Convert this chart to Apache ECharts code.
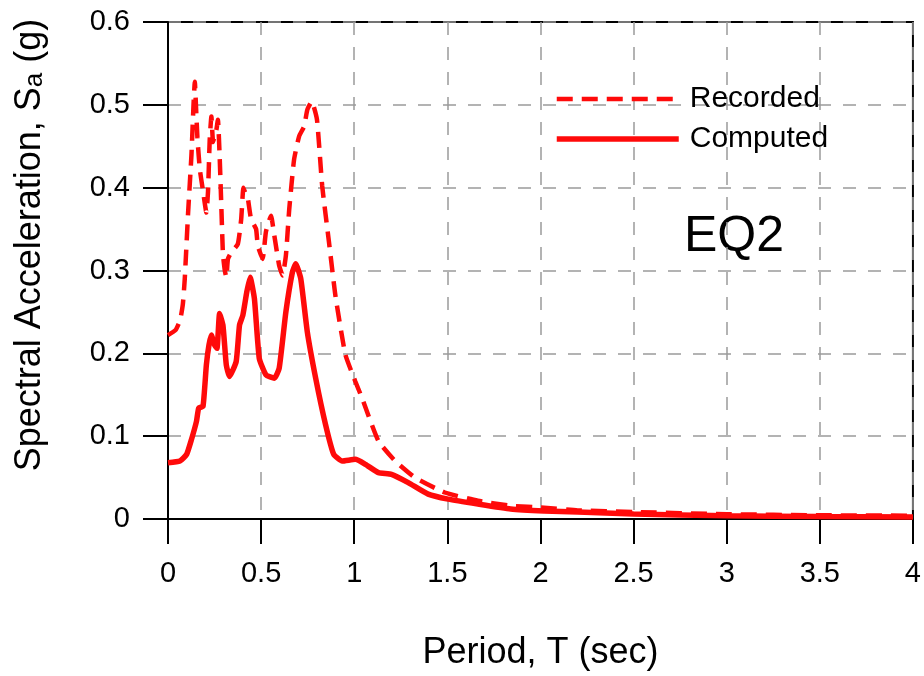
<!DOCTYPE html>
<html>
<head>
<meta charset="utf-8">
<script src="https://cdn.jsdelivr.net/npm/echarts@6/dist/echarts.min.js"></script>
<style>
  html, body { margin: 0; padding: 0; background: #fff; }
  #one { width: 924px; height: 676px; }
</style>
</head>
<body>
<div id="one"></div>
<script>
// periods (sec) and spectral acceleration (g)
var recT = [0, 0.04, 0.065, 0.08, 0.09, 0.108, 0.126, 0.137, 0.144, 0.15, 0.158, 0.171, 0.188, 0.206, 0.215,
  0.224, 0.233, 0.242, 0.25, 0.26, 0.268, 0.277, 0.286, 0.295, 0.305, 0.313, 0.322, 0.34, 0.375, 0.393,
  0.405, 0.417, 0.428, 0.446, 0.473, 0.482, 0.508, 0.526, 0.553, 0.571, 0.597, 0.615, 0.633, 0.651, 0.677,
  0.704, 0.731, 0.748, 0.772, 0.8, 0.828, 0.864, 0.9, 0.953, 1.006, 1.042, 1.13, 1.22, 1.326, 1.486,
  1.664, 1.84, 2.02, 2.2, 2.5, 3.0, 3.5, 4.0];
var recSa = [0.222, 0.228, 0.24, 0.26, 0.29, 0.37, 0.44, 0.5, 0.528, 0.5, 0.46, 0.422, 0.396, 0.37, 0.396,
  0.458, 0.486, 0.455, 0.462, 0.47, 0.482, 0.44, 0.38, 0.32, 0.3, 0.292, 0.314, 0.322, 0.332, 0.362,
  0.4, 0.392, 0.388, 0.362, 0.35, 0.33, 0.314, 0.347, 0.366, 0.342, 0.306, 0.294, 0.318, 0.374, 0.434,
  0.462, 0.474, 0.494, 0.504, 0.482, 0.402, 0.335, 0.268, 0.198, 0.166, 0.146, 0.094, 0.07, 0.05, 0.032,
  0.022, 0.016, 0.0136, 0.0104, 0.0084, 0.0058, 0.0045, 0.004];

var cmpT = [0, 0.064, 0.1, 0.126, 0.153, 0.165, 0.188, 0.206, 0.22, 0.233, 0.25, 0.263, 0.277, 0.295,
  0.313, 0.33, 0.366, 0.384, 0.402, 0.423, 0.441, 0.464, 0.49, 0.526, 0.571, 0.597, 0.633, 0.668, 0.686,
  0.713, 0.748, 0.793, 0.846, 0.89, 0.935, 1.006, 1.06, 1.13, 1.2, 1.29, 1.397, 1.504, 1.664, 1.84,
  2.02, 2.2, 2.5, 3.0, 3.5, 4.0];
var cmpSa = [0.068, 0.07, 0.078, 0.096, 0.118, 0.134, 0.136, 0.186, 0.21, 0.222, 0.21, 0.206, 0.248, 0.234,
  0.186, 0.172, 0.19, 0.234, 0.246, 0.274, 0.292, 0.266, 0.194, 0.174, 0.17, 0.182, 0.25, 0.298, 0.308,
  0.29, 0.226, 0.17, 0.114, 0.078, 0.07, 0.072, 0.066, 0.056, 0.054, 0.044, 0.03, 0.024, 0.018, 0.012,
  0.0096, 0.0084, 0.006, 0.004, 0.003, 0.0025];

var seriesNames = ['Recorded', 'Computed'];
var xTickLabels = ['0', '0.5', '1', '1.5', '2', '2.5', '3', '3.5', '4'];
var yTickLabels = ['0', '0.1', '0.2', '0.3', '0.4', '0.5', '0.6'];

function pairs(xs, ys) {
  return xs.map(function (x, i) { return [x, ys[i]]; });
}

var FONT = '"Liberation Sans", Arial, sans-serif';
var RED = '#ff0a0a';
var recDash = [16, 9];
var gridLine = { show: true, lineStyle: { color: '#9a9a9a', width: 1.5, type: [13, 12] } };

var mainContainer = document.getElementById('one');
var chart = echarts.init(mainContainer, null, { renderer: 'canvas' });

var option = {
  backgroundColor: '#fff',
  animation: false,
  grid: {
    left: 168, top: 22, width: 750, height: 500,
    show: true, borderColor: '#000', borderWidth: 2, backgroundColor: 'transparent'
  },
  legend: {
    orient: 'vertical',
    left: 549, top: 79,
    itemWidth: 122, itemHeight: 14, itemGap: 10,
    itemStyle: { opacity: 0 },
    data: [
      { name: seriesNames[0], lineStyle: { width: 4.5, type: recDash, color: RED } },
      { name: seriesNames[1], lineStyle: { width: 5.5, type: 'solid', color: RED } }
    ],
    textStyle: { fontFamily: FONT, fontSize: 30, color: '#000', padding: [0, 0, 0, 6] }
  },
  xAxis: {
    type: 'value', min: 0, max: 4, interval: 0.5,
    name: 'Period, T (sec)', nameLocation: 'middle', nameGap: 116,
    nameTextStyle: { fontFamily: FONT, fontSize: 36, color: '#000' },
    axisLine: { show: true, onZero: false, lineStyle: { color: '#000', width: 2 } },
    axisTick: { show: true, inside: false, length: 25, lineStyle: { color: '#000', width: 2 } },
    axisLabel: {
      margin: 40, fontFamily: FONT, fontSize: 29, color: '#000',
      formatter: function (v) { return xTickLabels[Math.round(v / 0.5)]; }
    },
    splitLine: gridLine
  },
  yAxis: {
    type: 'value', min: 0, max: 0.6, interval: 0.1,
    axisLine: { show: true, onZero: false, lineStyle: { color: '#000', width: 2 } },
    axisTick: { show: true, inside: false, length: 25, lineStyle: { color: '#000', width: 2 } },
    axisLabel: {
      margin: 38, fontFamily: FONT, fontSize: 29, color: '#000',
      formatter: function (v) { return yTickLabels[Math.round(v / 0.1)]; }
    },
    splitLine: gridLine
  },
  graphic: [
    {
      type: 'text', x: 30, y: 245, rotation: Math.PI / 2,
      style: {
        text: 'Spectral Acceleration, S{sub|a} (g)',
        font: '36px ' + FONT, fill: '#000',
        align: 'center', verticalAlign: 'middle',
        rich: { sub: { fontFamily: FONT, fontSize: 26, fill: '#000', verticalAlign: 'bottom', padding: [6, 0, 0, 0] } }
      }
    },
    {
      type: 'text', left: 684, top: 212,
      style: { text: 'EQ2', font: '50px ' + FONT, fill: '#000' }
    }
  ],
  series: [
    {
      name: seriesNames[0], type: 'line', data: pairs(recT, recSa),
      symbol: 'none', smooth: 0.15,
      lineStyle: { color: RED, width: 4.5, type: recDash },
      itemStyle: { color: RED }
    },
    {
      name: seriesNames[1], type: 'line', data: pairs(cmpT, cmpSa),
      symbol: 'none', smooth: 0.15,
      lineStyle: { color: RED, width: 5.5, type: 'solid' },
      itemStyle: { color: RED }
    }
  ]
};
chart.setOption(option);
</script>
</body>
</html>
